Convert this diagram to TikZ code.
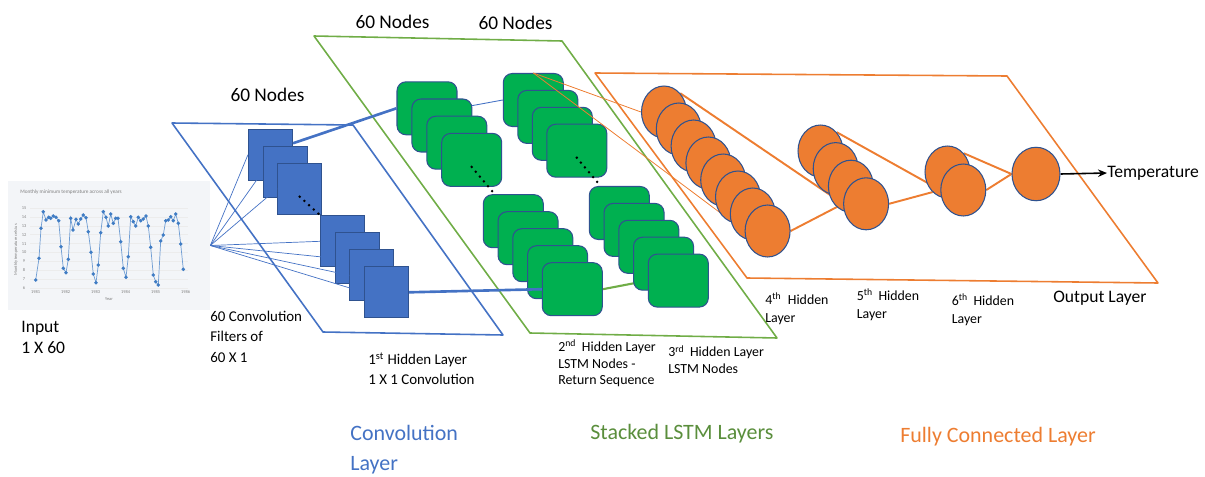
\documentclass[tikz,border=0pt]{standalone}
\usepackage{fontspec}
\setmainfont{Carlito}
\usetikzlibrary{arrows.meta,calc,shapes.geometric}

\definecolor{convblue}{HTML}{4472C4}
\definecolor{edgeblue}{HTML}{2F528F}
\definecolor{lstmgreen}{HTML}{00B050}
\definecolor{framegreen}{HTML}{70AD47}
\definecolor{textgreen}{HTML}{5A8E3C}
\definecolor{fcorange}{HTML}{ED7D31}
\definecolor{chartgray}{HTML}{F3F5F8}
\definecolor{plotblue}{HTML}{3F7CC4}

\pgfdeclarelayer{back}
\pgfdeclarelayer{front}
\pgfsetlayers{back,main,front}

\begin{document}
\begin{tikzpicture}[
  x=0.02cm, y=-0.02cm,
  filt/.style={draw=edgeblue, fill=convblue, line width=0.6pt, minimum width=0.88cm,
  minimum height=1.02cm, inner sep=0pt},
  cell/.style={draw=edgeblue, fill=lstmgreen, line width=0.6pt, rounded corners=0.18cm,
  minimum width=1.2cm, minimum height=1.06cm, inner sep=0pt},
  unit/.style={ellipse, draw=edgeblue, fill=fcorange, line width=0.6pt,
  minimum width=0.9cm, minimum height=1.04cm, inner sep=0pt},
  frame/.style={line width=0.9pt, line join=round},
  fan/.style={convblue, line width=0.4pt},
  feed/.style={convblue, line width=1.5pt},
  dense/.style={fcorange, line width=1.1pt},
  dots/.style={line width=1.6pt, dash pattern=on 0pt off 3.6pt, line cap=round},
  lbl/.style={align=left, anchor=west, inner sep=0pt, font=\fontsize{7.9}{9.5}\selectfont},
  big/.style={align=left, anchor=west, inner sep=0pt, font=\fontsize{12.5}{17}\selectfont}
]
  \useasboundingbox (0,0) rectangle (1205,477);

  % layer frames
  \begin{pgfonlayer}{back}
    \draw[frame, convblue] (172,123) -- (353,125) -- (503,335) -- (323,332) -- cycle;
    \draw[frame, framegreen] (314,36) -- (562,41) -- (777,338) -- (530,333) -- cycle;
    \draw[frame, fcorange] (595,73) -- (1007,76) -- (1158,283) -- (747,278) -- cycle;
  \end{pgfonlayer}

  % input series
  \node[fill=chartgray, minimum width=4.04cm, minimum height=2.58cm, inner sep=0pt]
    (chart) at (109,245.5) {};
  \node[anchor=west, inner sep=0pt, gray, font=\fontsize{3}{3.5}\selectfont]
    (title) at (20,192) {Monthly minimum temperature across all years};
  \foreach \v [count=\k from 0] in {15,14,...,6} {
    \draw[gray!15, line width=0.3pt] (30,{208+8.9*\k}) -- (188,{208+8.9*\k});
    \node[gray, inner sep=0pt, font=\fontsize{2.5}{3}\selectfont] at (24,{208+8.9*\k}) {\v};
  }
  \foreach \yr [count=\k from 0] in {1981,...,1986}
    \node[gray, inner sep=0pt, font=\fontsize{2.5}{3}\selectfont] at ({35.7+30*\k},292.5) {\yr};
  \node[gray, inner sep=0pt, font=\fontsize{2.5}{3}\selectfont] at (109,299) {Year};
  \node[gray, inner sep=0pt, rotate=90, font=\fontsize{2.5}{3}\selectfont] at (16,250)
    {Monthly temperature celsius};
  \draw[plotblue!75, line width=0.4pt] plot[mark=*, mark size=0.8pt,
    mark options={fill=plotblue, draw=plotblue}] coordinates {
    (35.7,280) (39,258.3) (41,228.3) (43.3,211.7) (46,220) (48.7,217.3) (50.7,218.3)
    (53.3,216) (56,217.3) (58.7,220.7) (61,246.7) (63.3,268.3) (66,272.7) (68.3,259.3)
    (70.7,218.3) (73,230) (76,219.3) (78.3,224) (80.7,219) (83.3,215) (86,217.7)
    (88.3,231.7) (91,252.3) (93.3,274) (96,282.7) (98.3,265) (100.7,232.7) (103.3,211.7)
    (106,217.3) (108.3,226) (110.7,214) (113.3,223.3) (115.7,218.3) (118,218.3)
    (120.7,241.7) (123.3,268.3) (126,277.3) (128.3,256.7) (130.7,216.7) (133.3,221.7)
    (135.7,226) (138.3,217.3) (140.7,220.7) (143.3,219) (146,216) (148.3,226)
    (150.7,247.3) (153.3,275) (155.7,281.7) (158.3,285) (160.7,241) (163.3,235)
    (165.7,220.7) (168.3,220) (170.7,216.7) (173.3,220.7) (175.7,214) (178.3,223.3)
    (180.7,244) (183.3,269.3)};

  % 1 x 1 convolution filters
  \foreach \i in {1,2,3}
    \node[filt] (sq\i) at ({270.5+14.6*(\i-1)},{154.7+17*(\i-1)}) {};
  \foreach \i in {4,...,7}
    \node[filt] (sq\i) at ({342.7+14.6*(\i-4)},{241.3+17*(\i-4)}) {};

  % stacked LSTM cells
  \foreach \i in {1,...,4}
    \node[cell] (l2u\i) at ({427+14.9*(\i-1)},{108.3+17.2*(\i-1)}) {};
  \foreach \i in {1,...,5}
    \node[cell] (l2d\i) at ({513.3+14.75*(\i-1)},{221.2+17*(\i-1)}) {};
  \foreach \i in {1,...,4}
    \node[cell] (l3u\i) at ({533.3+14.5*(\i-1)},{100+16.9*(\i-1)}) {};
  \foreach \i in {1,...,5}
    \node[cell] (l3d\i) at ({619.3+14.75*(\i-1)},{213+16.9*(\i-1)}) {};

  % fully connected units
  \begin{pgfonlayer}{front}
    \foreach \i in {1,...,8}
      \node[unit] (h4n\i) at ({664+14.8*(\i-1)},{112+17*(\i-1)}) {};
    \foreach \i in {1,...,4}
      \node[unit] (h5n\i) at ({820.5+15.2*(\i-1)},{151+17.6*(\i-1)}) {};
    \node[unit] (h6n1) at (947.5,172) {};
    \node[unit] (h6n2) at (963.3,190) {};
    \node[unit, minimum width=0.96cm, minimum height=1.07cm] (out) at (1036,174) {};
  \end{pgfonlayer}

  % connections
  \foreach \i in {1,...,7}
    \draw[fan] (chart.east) -- (sq\i.west);
  \draw[feed] ($(sq1.north east)!0.28!(sq1.south east)$) -- (l2u1.west);
  \draw[feed] (sq7.east) -- (l2d5.west);
  \begin{pgfonlayer}{back}
    \draw[convblue, line width=0.5pt] (l2u1.east) -- (l3u1.west);
    \draw[framegreen, line width=1.2pt] (l2d5.east) -- (l3d5.west);
    \draw[dense] (h4n1.north east) -- (h5n4.west);
    \draw[dense] (h4n8.east) -- (h5n4.west);
    \draw[dense] (h5n1.north east) -- (h6n2.west);
    \draw[dense] (h5n4.east) -- (h6n2.west);
    \draw[dense] (h6n1.north east) -- (out.west);
    \draw[dense] (h6n2.east) -- (out.west);
  \end{pgfonlayer}
  \draw[fcorange, line width=0.45pt] (l3u1.north) -- (h4n1.west);
  \draw[fcorange, line width=0.45pt] (l3u1.north) -- (h4n8.west);

  % elided filters and cells
  \draw[dots] ([shift={(0,8)}]sq3.center) -- (sq4.north west);
  \draw[dots] ([shift={(0,7)}]l2u4.center) -- ([shift={(11,-1)}]l2d1.north west);
  \draw[dots] ([shift={(0,7)}]l3u4.center) -- ([shift={(11,-1)}]l3d1.north west);

  % output
  \node[anchor=west, inner sep=0pt, font=\fontsize{10}{12}\selectfont] (temp) at (1107,173)
    {Temperature};
  \draw[-{Stealth[length=1.8mm, width=1.5mm]}, line width=0.9pt] (out.east) -- (temp.west);

  % labels
  \node[font=\fontsize{11}{13}\selectfont] (n1) at (267.5,95) {60 Nodes};
  \node[font=\fontsize{11}{13}\selectfont] (n2) at (392.5,22) {60 Nodes};
  \node[font=\fontsize{11}{13}\selectfont] (n3) at (515.5,23) {60 Nodes};
  \node[lbl, font=\fontsize{10}{12}\selectfont] (inlbl) at (21,337.5) {Input\\1 X 60};
  \node[lbl, font=\fontsize{8.5}{11.6}\selectfont] (filtlbl) at (210,336.5)
    {60 Convolution\\Filters of\\60 X 1};
  \node[lbl, font=\fontsize{8.5}{11.3}\selectfont] (h1lbl) at (368,369)
    {1\textsuperscript{st} Hidden Layer\\1 X 1 Convolution};
  \node[lbl] (h2lbl) at (558,363.5)
    {2\textsuperscript{nd}\, Hidden Layer\\LSTM Nodes -\\Return Sequence};
  \node[lbl] (h3lbl) at (668,359.5) {3\textsuperscript{rd}\, Hidden Layer\\LSTM Nodes};
  \node[lbl, font=\fontsize{7.9}{10.3}\selectfont] (h4lbl) at (765,309)
    {4\textsuperscript{th}\ \ Hidden\\Layer};
  \node[lbl, font=\fontsize{7.9}{10.3}\selectfont] (h5lbl) at (856.5,305)
    {5\textsuperscript{th}\, Hidden\\Layer};
  \node[lbl, font=\fontsize{7.9}{10.3}\selectfont] (h6lbl) at (951.5,310)
    {6\textsuperscript{th}\, Hidden\\Layer};
  \node[lbl, font=\fontsize{10}{12}\selectfont] (outlbl) at (1053,298) {Output Layer};
  \node[big, convblue] (convlbl) at (350,450) {Convolution\\Layer};
  \node[big, textgreen] (lstmlbl) at (590,434) {Stacked LSTM Layers};
  \node[big, fcorange] (fclbl) at (900,437) {Fully Connected Layer};
\end{tikzpicture}
\end{document}
